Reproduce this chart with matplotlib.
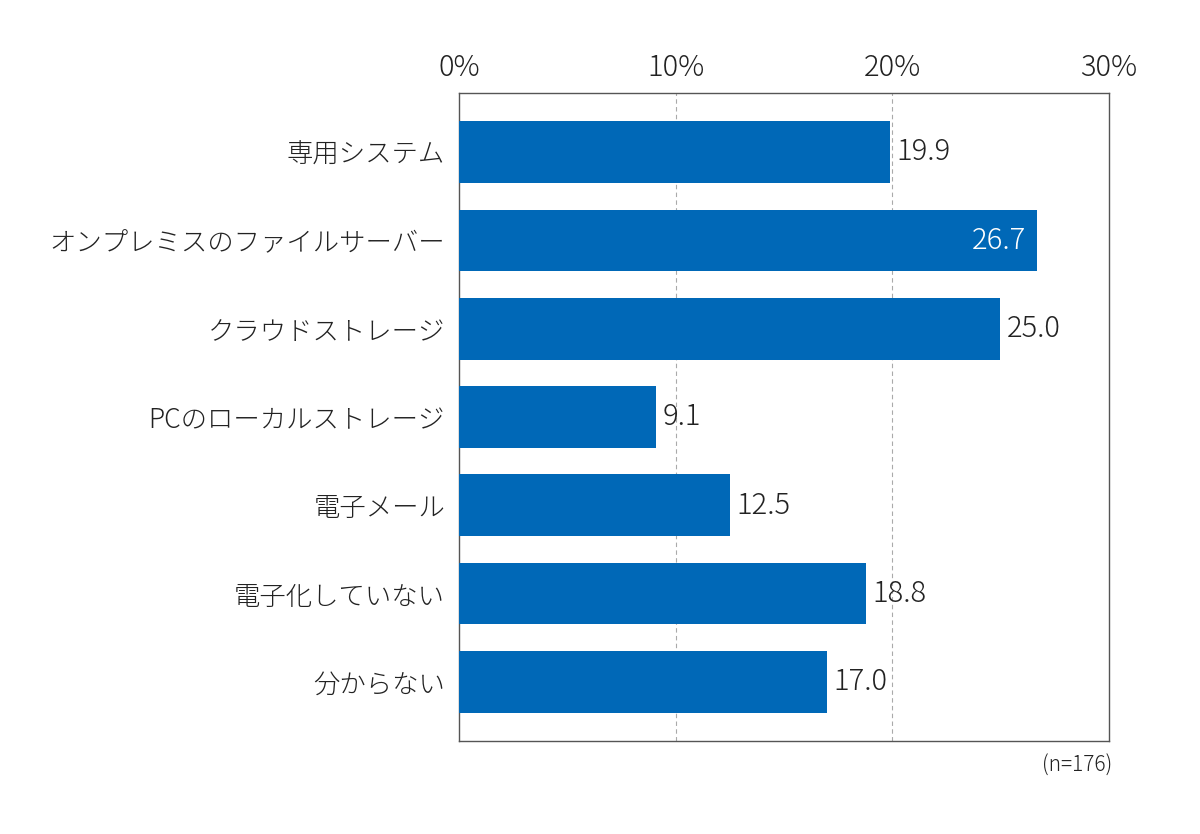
import matplotlib
matplotlib.use("Agg")
import matplotlib.pyplot as plt

plt.rcParams['font.family'] = ['Noto Sans CJK JP', 'DejaVu Sans']
plt.rcParams['font.weight'] = 'light'

categories = ["専用システム", "オンプレミスのファイルサーバー", "クラウドストレージ",
              "PCのローカルストレージ", "電子メール", "電子化していない", "分からない"]
values = [19.9, 26.7, 25.0, 9.1, 12.5, 18.8, 17.0]
xticks = [0, 10, 20, 30]
xticklabels = ["0%", "10%", "20%", "30%"]

bar_color = "#0068b7"

fig = plt.figure(figsize=(12, 8.34), dpi=100)
ax = fig.add_axes([0.3825, 0.1115, 0.5415, 0.777])

y = list(range(len(categories)))
ax.barh(y, values, height=0.7, color=bar_color, zorder=3)

ax.set_xlim(0, 30)
ax.set_ylim(len(categories) - 0.33, -0.67)
ax.set_yticks(y)
ax.set_yticklabels(categories, fontsize=19, color="#222222")
ax.set_xticks(xticks)
ax.set_xticklabels(xticklabels, fontsize=21, color="#222222")
ax.xaxis.tick_top()
ax.tick_params(axis="both", length=0)
ax.tick_params(axis="y", pad=10)
ax.tick_params(axis="x", pad=7)

for x in xticks[1:-1]:
    ax.axvline(x, color="#aaaaaa", linestyle=(0, (4, 3)), linewidth=0.8, zorder=1)

for s in ax.spines.values():
    s.set_color("#555555")
    s.set_linewidth(1.0)

for i, v in enumerate(values):
    if v == max(values):
        ax.text(v - 0.5, i, f"{v:.1f}", va="center", ha="right", fontsize=21, color="white", zorder=4)
    else:
        ax.text(v + 0.3, i, f"{v:.1f}", va="center", ha="left", fontsize=21, color="#222222", zorder=4)

fig.text(0.927, 0.082, "(n=176)", ha="right", va="center", fontsize=15, color="#222222")

fig.savefig("out.png", dpi=100)
